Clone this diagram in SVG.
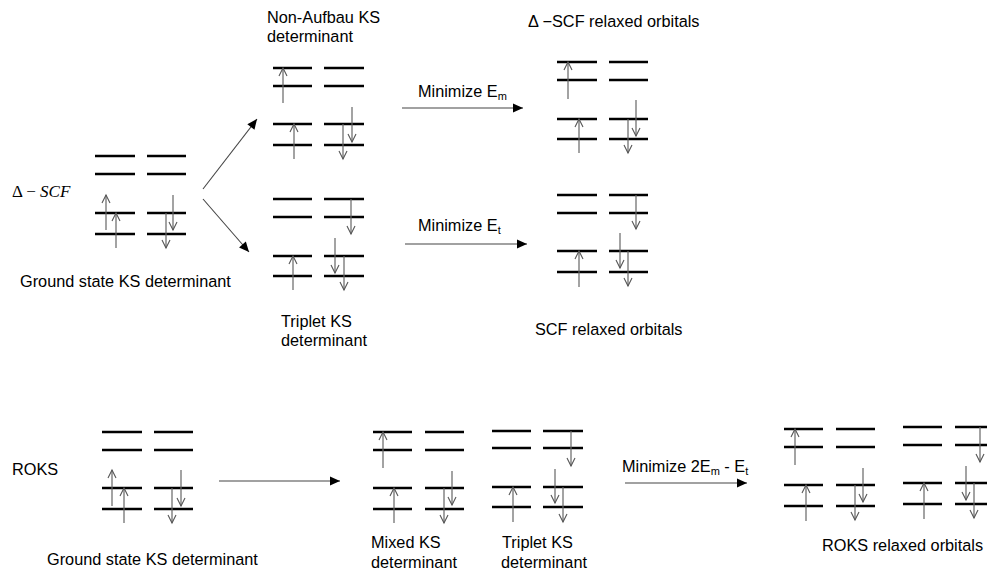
<svg xmlns="http://www.w3.org/2000/svg" width="987" height="577" viewBox="0 0 987 577">
<defs>
<style>
.lv{stroke:#000;stroke-width:2.5;fill:none}
.sp{stroke:#666;stroke-width:1.2;fill:none;marker-end:url(#spin)}
.cn{stroke:#444;stroke-width:1.1;fill:none;marker-end:url(#head)}
.t{font-family:"Liberation Sans",Arial,sans-serif;font-size:16.3px;fill:#000}
.sub{font-size:11px}
</style>
<marker id="spin" viewBox="-10 -6 12 12" refX="0" refY="0" markerWidth="12" markerHeight="12" markerUnits="userSpaceOnUse" orient="auto">
<path d="M-8,-4 L0,0 L-8,4" fill="none" stroke="#555" stroke-width="1.1"/>
</marker>
<marker id="head" viewBox="-11 -6 12 12" refX="0" refY="0" markerWidth="12" markerHeight="12" markerUnits="userSpaceOnUse" orient="auto">
<path d="M-10,-4.5 L0,0 L-10,4.5 Z" fill="#000"/>
</marker>
</defs>
<rect width="987" height="577" fill="#fff"/>

<g id="connectors">
<line class="cn" x1="203" y1="189" x2="257" y2="119"/>
<line class="cn" x1="203" y1="199" x2="249" y2="252"/>
<line class="cn" x1="402" y1="108" x2="523" y2="108"/>
<line class="cn" x1="405" y1="244" x2="527" y2="244"/>
<line class="cn" x1="219" y1="481" x2="340" y2="481"/>
<line class="cn" x1="625" y1="483" x2="747" y2="483"/>
</g>

<g id="ground-dscf">
<path class="lv" d="M95,156H135M147,156H186M95,174H135M147,174H186M95,213H135M147,213H186M95,234H135M147,234H186"/>
<line class="sp" x1="106" y1="230" x2="106" y2="195"/>
<line class="sp" x1="116" y1="248" x2="116" y2="213"/>
<line class="sp" x1="173" y1="195" x2="173" y2="230"/>
<line class="sp" x1="166" y1="213" x2="166" y2="248"/>
</g>

<g id="nonaufbau">
<path class="lv" d="M273,68H312M324,68H364M273,86H312M324,86H364M273,124H312M324,124H364M273,145H312M324,145H364"/>
<line class="sp" x1="283" y1="103" x2="283" y2="68"/>
<line class="sp" x1="294" y1="159" x2="294" y2="124"/>
<line class="sp" x1="352" y1="107" x2="352" y2="142"/>
<line class="sp" x1="343" y1="124" x2="343" y2="159"/>
</g>

<g id="triplet-top">
<path class="lv" d="M273,199H312M324,199H364M273,217H312M324,217H364M273,256H312M324,256H364M273,276H312M324,276H364"/>
<line class="sp" x1="351" y1="199" x2="351" y2="234"/>
<line class="sp" x1="293" y1="290" x2="293" y2="256"/>
<line class="sp" x1="335" y1="238" x2="335" y2="273"/>
<line class="sp" x1="344" y1="256" x2="344" y2="290"/>
</g>

<g id="dscf-relaxed">
<path class="lv" d="M557,62H597M609,62H648M557,80H597M609,80H648M557,119H597M609,119H648M557,139H597M609,139H648"/>
<line class="sp" x1="568" y1="99" x2="568" y2="62"/>
<line class="sp" x1="579" y1="153" x2="579" y2="119"/>
<line class="sp" x1="636" y1="100" x2="636" y2="136"/>
<line class="sp" x1="628" y1="119" x2="628" y2="153"/>
</g>

<g id="scf-relaxed">
<path class="lv" d="M557,195H597M609,195H648M557,213H597M609,213H648M557,251H597M609,251H648M557,272H597M609,272H648"/>
<line class="sp" x1="636" y1="195" x2="636" y2="229"/>
<line class="sp" x1="579" y1="287" x2="579" y2="251"/>
<line class="sp" x1="620" y1="233" x2="620" y2="268"/>
<line class="sp" x1="628" y1="251" x2="628" y2="286"/>
</g>

<g id="ground-roks">
<path class="lv" d="M102,432H142M154,432H193M102,450H142M154,450H193M102,488H142M154,488H193M102,509H142M154,509H193"/>
<line class="sp" x1="112" y1="506" x2="112" y2="470"/>
<line class="sp" x1="124" y1="523" x2="124" y2="488"/>
<line class="sp" x1="181" y1="470" x2="181" y2="506"/>
<line class="sp" x1="172" y1="488" x2="172" y2="523"/>
</g>

<g id="mixed">
<path class="lv" d="M373,432H412M425,432H464M373,450H412M425,450H464M373,488H412M425,488H464M373,509H412M425,509H464"/>
<line class="sp" x1="383" y1="468" x2="383" y2="432"/>
<line class="sp" x1="394" y1="523" x2="394" y2="488"/>
<line class="sp" x1="452" y1="471" x2="452" y2="505"/>
<line class="sp" x1="444" y1="488" x2="444" y2="523"/>
</g>

<g id="triplet-bottom">
<path class="lv" d="M492,431H531M543,431H583M492,448H531M543,448H583M492,487H531M543,487H583M492,507H531M543,507H583"/>
<line class="sp" x1="571" y1="431" x2="571" y2="466"/>
<line class="sp" x1="513" y1="522" x2="513" y2="487"/>
<line class="sp" x1="555" y1="469" x2="555" y2="503"/>
<line class="sp" x1="563" y1="487" x2="563" y2="522"/>
</g>

<g id="roks-relaxed-mixed">
<path class="lv" d="M784,429H823M836,429H875M784,447H823M836,447H875M784,485H823M836,485H875M784,506H823M836,506H875"/>
<line class="sp" x1="795" y1="465" x2="795" y2="429"/>
<line class="sp" x1="806" y1="521" x2="806" y2="485"/>
<line class="sp" x1="863" y1="468" x2="863" y2="502"/>
<line class="sp" x1="855" y1="485" x2="855" y2="520"/>
</g>

<g id="roks-relaxed-triplet">
<path class="lv" d="M903,427H942M955,427H995M903,445H942M955,445H995M903,483H942M955,483H995M903,504H942M955,504H995"/>
<line class="sp" x1="980" y1="427" x2="980" y2="462"/>
<line class="sp" x1="924" y1="519" x2="924" y2="483"/>
<line class="sp" x1="966" y1="466" x2="966" y2="500"/>
<line class="sp" x1="974" y1="483" x2="974" y2="518"/>
</g>

<g id="labels">
<text x="12" y="197" font-family="'Liberation Serif','DejaVu Serif',serif" font-size="17">Δ − <tspan font-style="italic">SCF</tspan></text>
<text class="t" x="20" y="287">Ground state KS determinant</text>
<text class="t" x="267" y="23">Non-Aufbau KS</text>
<text class="t" x="267" y="42">determinant</text>
<text class="t" x="281" y="327">Triplet KS</text>
<text class="t" x="281" y="346">determinant</text>
<text class="t" x="528" y="27">Δ −SCF relaxed orbitals</text>
<text class="t" x="418" y="97">Minimize E<tspan class="sub" dy="3">m</tspan></text>
<text class="t" x="418" y="231">Minimize E<tspan class="sub" dy="3">t</tspan></text>
<text class="t" x="535" y="335">SCF relaxed orbitals</text>
<text class="t" x="12" y="475">ROKS</text>
<text class="t" x="47" y="565">Ground state KS determinant</text>
<text class="t" x="371" y="548">Mixed KS</text>
<text class="t" x="371" y="568">determinant</text>
<text class="t" x="502" y="548">Triplet KS</text>
<text class="t" x="501" y="568">determinant</text>
<text class="t" x="622" y="472">Minimize 2E<tspan class="sub" dy="3">m</tspan><tspan dy="-3"> - E</tspan><tspan class="sub" dy="3">t</tspan></text>
<text class="t" x="822" y="551">ROKS relaxed orbitals</text>
</g>
</svg>
